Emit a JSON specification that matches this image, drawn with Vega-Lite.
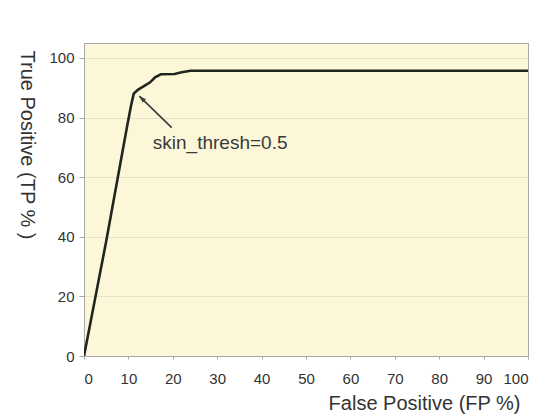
{
  "$schema": "https://vega.github.io/schema/vega-lite/v6.json",
  "autosize": {"type": "none"},
  "width": 444,
  "height": 313,
  "padding": {"left": 84, "top": 43, "right": 20, "bottom": 60},
  "background": "white",
  "config": {
    "view": {"fill": "#FDF7D9", "stroke": "#A8A8A8", "strokeWidth": 1},
    "font": "Liberation Sans",
    "axis": {
      "labelFont": "Liberation Sans",
      "titleFont": "Liberation Sans",
      "labelColor": "#333333",
      "titleColor": "#333333",
      "domainColor": "#A8A8A8",
      "tickColor": "#A8A8A8",
      "titleFontWeight": "normal"
    }
  },
  "datasets": {
    "roc": [
      {"fp": 0, "tp": 0},
      {"fp": 5, "tp": 38.5},
      {"fp": 9.7, "tp": 77},
      {"fp": 10.6, "tp": 84},
      {"fp": 11.2, "tp": 88},
      {"fp": 12.2, "tp": 89.4},
      {"fp": 13.5, "tp": 90.5},
      {"fp": 14.9, "tp": 91.8},
      {"fp": 16, "tp": 93.5},
      {"fp": 17.3, "tp": 94.5},
      {"fp": 20.4, "tp": 94.6},
      {"fp": 22, "tp": 95.2},
      {"fp": 24, "tp": 95.7},
      {"fp": 100, "tp": 95.7}
    ],
    "arrow": [
      {"x1": 19.75, "y1": 76.6, "x2": 12.45, "y2": 87.2}
    ],
    "note": [
      {"fp": 15.5, "tp": 71.6, "label": "skin_thresh=0.5"}
    ]
  },
  "layer": [
    {
      "data": {"name": "roc"},
      "mark": {"type": "line", "color": "#1E261E", "strokeWidth": 2.6, "clip": true},
      "encoding": {
        "x": {
          "field": "fp", "type": "quantitative",
          "scale": {"domain": [0, 100], "nice": false},
          "axis": {
            "values": [0, 10, 20, 30, 40, 50, 60, 70, 80, 90, 100],
            "grid": false,
            "tickSize": 3,
            "labelPadding": 12,
            "labelFontSize": 15,
            "title": "False Positive (FP %)",
            "titleFontSize": 20,
            "titleAnchor": "end",
            "titleAlign": "right",
            "titleX": 436,
            "titlePadding": 7
          }
        },
        "y": {
          "field": "tp", "type": "quantitative",
          "scale": {"domain": [0, 105], "nice": false},
          "axis": {
            "values": [0, 20, 40, 60, 80, 100],
            "grid": true,
            "gridColor": "#E8E2C4",
            "gridWidth": 1,
            "tickSize": 5,
            "labelPadding": 5,
            "labelFontSize": 15,
            "title": "True Positive (TP % )",
            "titleFontSize": 20,
            "titleAngle": 90,
            "titleAnchor": "end",
            "titleAlign": "left",
            "titleBaseline": "middle",
            "titleY": 7,
            "titlePadding": 22
          }
        }
      }
    },
    {
      "data": {"name": "arrow"},
      "mark": {"type": "rule", "color": "#3A3A3A", "strokeWidth": 1.6},
      "encoding": {
        "x": {"field": "x1", "type": "quantitative"},
        "y": {"field": "y1", "type": "quantitative"},
        "x2": {"field": "x2"},
        "y2": {"field": "y2"}
      }
    },
    {
      "data": {"name": "arrow"},
      "mark": {"type": "point", "shape": "M0,0L-0.75,2.2L0.75,2.2Z", "filled": true, "color": "#3A3A3A", "size": 40, "angle": 314, "opacity": 1},
      "encoding": {
        "x": {"field": "x2", "type": "quantitative"},
        "y": {"field": "y2", "type": "quantitative"}
      }
    },
    {
      "data": {"name": "note"},
      "mark": {"type": "text", "align": "left", "baseline": "middle", "fontSize": 19, "color": "#3A3A3A", "font": "Liberation Sans"},
      "encoding": {
        "x": {"field": "fp", "type": "quantitative"},
        "y": {"field": "tp", "type": "quantitative"},
        "text": {"field": "label"}
      }
    }
  ]
}
